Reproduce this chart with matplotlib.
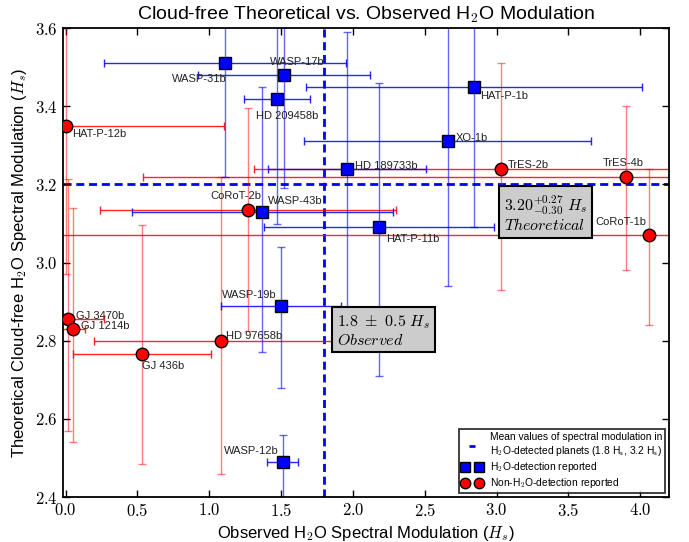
import numpy as np
import matplotlib
matplotlib.use('Agg')
import matplotlib.pyplot as plt
from matplotlib.lines import Line2D
from matplotlib.legend_handler import HandlerLine2D

plt.rcParams['font.family'] = ['Liberation Sans', 'DejaVu Sans']
plt.rcParams['mathtext.fontset'] = 'cm'

# H2O-detection reported (blue squares)
names_det = ['WASP-31b', 'WASP-17b', 'HD 209458b', 'HAT-P-1b', 'XO-1b',
             'HD 189733b', 'WASP-43b', 'HAT-P-11b', 'WASP-19b', 'WASP-12b']
x_det = [1.11, 1.52, 1.47, 2.84, 2.66, 1.96, 1.37, 2.18, 1.50, 1.51]
xerr_det = [0.84, 0.60, 0.23, 1.17, 1.00, 0.55, 0.91, 0.80, 0.42, 0.11]
y_det = [3.51, 3.48, 3.42, 3.45, 3.31, 3.24, 3.13, 3.09, 2.89, 2.49]
yerr_det_lo = [0.29, 0.29, 0.32, 0.36, 0.37, 0.40, 0.36, 0.38, 0.21, 0.12]
yerr_det_hi = [0.29, 0.29, 0.32, 0.36, 0.37, 0.35, 0.32, 0.37, 0.15, 0.07]

# non-H2O-detection reported (red circles)
names_non = ['HAT-P-12b', 'TrES-2b', 'TrES-4b', 'CoRoT-2b', 'CoRoT-1b',
             'GJ 3470b', 'GJ 1214b', 'HD 97658b', 'GJ 436b']
x_non = [0.00, 3.03, 3.90, 1.27, 4.06, 0.02, 0.05, 1.08, 0.53]
xerr_non = [1.10, 1.72, 3.36, 1.03, 4.30, 0.25, 0.085, 0.88, 0.48]
y_non = [3.35, 3.24, 3.22, 3.135, 3.07, 2.855, 2.83, 2.80, 2.765]
yerr_non_lo = [0.38, 0.31, 0.24, 0.31, 0.23, 0.285, 0.29, 0.34, 0.28]
yerr_non_hi = [0.38, 0.27, 0.18, 0.26, 0.17, 0.36, 0.31, 0.42, 0.33]

mean_obs = 1.8
mean_theo = 3.2

# label placement (offset in pixels, horizontal alignment)
lab_pos = {
    'WASP-31b': (2, -16, 'right'), 'WASP-17b': (-14, 13, 'left'),
    'HD 209458b': (-21, -17, 'left'), 'HAT-P-1b': (7, -9, 'left'),
    'XO-1b': (8, 3, 'left'), 'HD 189733b': (8, 3, 'left'),
    'WASP-43b': (6, 11, 'left'), 'HAT-P-11b': (7, -12, 'left'),
    'WASP-19b': (-5, 11, 'right'), 'WASP-12b': (-4, 11, 'right'),
    'HAT-P-12b': (7, -8, 'left'), 'TrES-2b': (7, 4, 'left'),
    'TrES-4b': (-3, 14, 'center'), 'CoRoT-2b': (-12, 14, 'center'),
    'CoRoT-1b': (-3, 13, 'right'), 'GJ 3470b': (8, 3, 'left'),
    'GJ 1214b': (8, 3, 'left'), 'HD 97658b': (5, 5, 'left'),
    'GJ 436b': (0, -12, 'left'),
}

fig = plt.figure(figsize=(6.89, 5.42), dpi=100)
ax = fig.add_axes([0.091, 0.083, 0.880, 0.865])

ax.axhline(mean_theo, color='b', ls='--', lw=2, dashes=(2.9, 1.7), zorder=1)
ax.axvline(mean_obs, color='b', ls='--', lw=2, dashes=(2.9, 1.7), zorder=1)

ax.errorbar(x_non, y_non, xerr=xerr_non, fmt='none', ecolor='r', elinewidth=1,
            capsize=3, alpha=0.85, zorder=2)
ax.errorbar(x_non, y_non, yerr=[yerr_non_lo, yerr_non_hi], fmt='none', ecolor='r',
            elinewidth=1, capsize=3, alpha=0.5, zorder=2)
ax.errorbar(x_det, y_det, xerr=xerr_det, fmt='none', ecolor='b', elinewidth=1,
            capsize=3, alpha=0.85, zorder=2)
ax.errorbar(x_det, y_det, yerr=[yerr_det_lo, yerr_det_hi], fmt='none', ecolor='b',
            elinewidth=1, capsize=3, alpha=0.6, zorder=2)

ax.plot(x_non, y_non, 'o', color='r', mec='k', mew=1, ms=9, zorder=4)
ax.plot(x_det, y_det, 's', color='b', mec='k', mew=1, ms=9, zorder=4)

for names, xs, ys in [(names_det, x_det, y_det), (names_non, x_non, y_non)]:
    for n, xx, yy in zip(names, xs, ys):
        dx, dy, ha = lab_pos[n]
        ax.annotate(n, (xx, yy), xytext=(dx, dy), textcoords='offset pixels',
                    ha=ha, va='center', fontsize=8, color='#222222', zorder=5)

box = dict(boxstyle='square,pad=0.3', fc='#cccccc', ec='k', lw=1.5)
ax.text(1.89, 2.826, r'$1.8\ \pm\ 0.5\ H_s$' + '\n' + r'$Observed$', fontsize=11.5,
        ha='left', va='center', bbox=box, zorder=6, linespacing=1.1)
ax.text(3.05, 3.126, r'$3.20^{+0.27}_{-0.30}\ H_s$' + '\n' + r'$Theoretical$',
        fontsize=11.5, ha='left', va='center', bbox=box, zorder=6, linespacing=1.0)

ax.set_xlim(-0.02, 4.2)
ax.set_ylim(2.4, 3.6)
ax.set_xticks(np.arange(0, 4.01, 0.5))
ax.set_yticks(np.arange(2.4, 3.61, 0.2))
ax.set_xticklabels(['$%.1f$' % v for v in np.arange(0, 4.01, 0.5)], fontsize=12)
ax.set_yticklabels(['$%.1f$' % v for v in np.arange(2.4, 3.61, 0.2)], fontsize=12)
ax.tick_params(direction='in', top=True, right=True, length=5, width=1)
for sp in ax.spines.values():
    sp.set_linewidth(1.3)

ax.set_title(r'Cloud-free Theoretical vs. Observed H$_\mathsf{2}$O Modulation', fontsize=14)
ax.set_xlabel(r'Observed H$_\mathsf{2}$O Spectral Modulation ($H_s$)', fontsize=12)
ax.set_ylabel(r'Theoretical Cloud-free H$_\mathsf{2}$O Spectral Modulation ($H_s$)', fontsize=12)

h_mean = Line2D([], [], color='b', ls='none', marker='_', ms=5, mew=2)
h_det = Line2D([], [], color='b', ls='none', marker='s', mec='k', ms=7.5)
h_non = Line2D([], [], color='r', ls='none', marker='o', mec='k', ms=7.5)
leg = ax.legend([h_mean, h_det, h_non],
                ['Mean values of spectral modulation in\n'
                 r'H$_\mathsf{2}$O-detected planets (1.8 H$_\mathsf{s}$, 3.2 H$_\mathsf{s}$)',
                 r'H$_\mathsf{2}$O-detection reported',
                 r'Non-H$_\mathsf{2}$O-detection reported'],
                loc='lower right', numpoints=2, fontsize=7.4, fancybox=False,
                handlelength=1.96, handletextpad=0.75, borderaxespad=0.35,
                labelspacing=0.2, borderpad=0.3, handleheight=0.7,
                handler_map={h_mean: HandlerLine2D(numpoints=1)})
leg.get_frame().set_edgecolor('k')
leg.get_frame().set_linewidth(1.3)
leg.set_zorder(10)

fig.savefig('out.png', dpi=100)
